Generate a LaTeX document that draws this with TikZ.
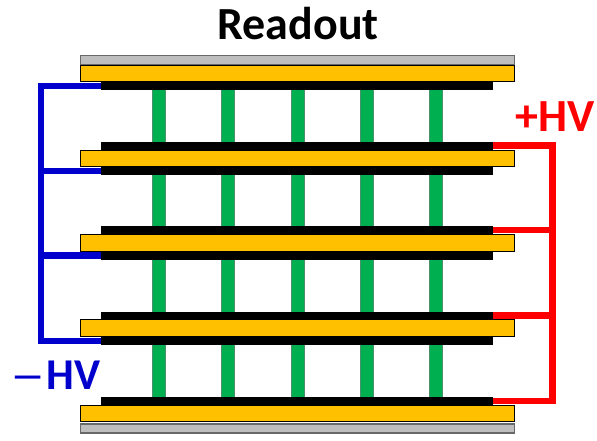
\documentclass[tikz,border=0pt]{standalone}
\usepackage{fontspec}
\setmainfont{Carlito}
\usepackage{tikz}
\definecolor{plateorange}{RGB}{255,192,0}
\definecolor{plategray}{RGB}{190,190,190}
\definecolor{spacergreen}{RGB}{0,176,80}
\definecolor{negblue}{RGB}{0,0,204}
\definecolor{posred}{RGB}{255,0,0}
\begin{document}
\begin{tikzpicture}[x=1pt,y=-1pt,
  plate/.style={rectangle,inner sep=0pt,outer sep=0pt},
  window node/.style={plate,draw=black!45!plategray,line width=1.2pt,fill=plategray,minimum width=434pt,minimum height=9pt},
  pcb node/.style={plate,draw=black,line width=1.4pt,fill=plateorange,minimum width=434pt,minimum height=16.5pt},
  mesh node/.style={plate,fill=black,minimum width=392pt,minimum height=8pt},
  spacer node/.style={plate,draw=black!45!spacergreen!70!white,line width=.8pt,fill=spacergreen,minimum width=13pt,minimum height=312pt},
  neg wire/.style={draw=negblue,line width=6.5pt,-},
  pos wire/.style={draw=posred,line width=6.5pt,-},
  label node/.style={font=\bfseries,inner sep=0pt}]
	\useasboundingbox (0,0) rectangle (597,440);
	% spacers run behind the plates
	\node[spacer node] (SPa) at (159,243) {};
	\node[spacer node] (SPb) at (228,243) {};
	\node[spacer node] (SPc) at (297.5,243) {};
	\node[spacer node] (SPd) at (367,243) {};
	\node[spacer node] (SPe) at (436,243) {};
	\node[window node] (WINtop) at (297.5,60) {};
	\node[window node] (WINbot) at (297.5,428.5) {};
	\node[pcb node] (PCBa) at (297.5,73.5) {};
	\node[pcb node] (PCBb) at (297.5,158.5) {};
	\node[pcb node] (PCBc) at (297.5,243) {};
	\node[pcb node] (PCBd) at (297.5,328) {};
	\node[pcb node] (PCBe) at (297.5,413.5) {};
	\node[mesh node] (LOWa) at (297,86) {};
	\node[mesh node] (UPb) at (297,145.5) {};
	\node[mesh node] (LOWb) at (297,171) {};
	\node[mesh node] (UPc) at (297,230) {};
	\node[mesh node] (LOWc) at (297,255.5) {};
	\node[mesh node] (UPd) at (297,315.5) {};
	\node[mesh node] (LOWd) at (297,341) {};
	\node[mesh node] (UPe) at (297,401) {};
	\coordinate (busL) at (41,243);
	\coordinate (busR) at (552.5,243);
	% high voltage lines
	\draw[neg wire] (LOWa.west) -- (LOWa.west -| busL) -- (LOWd.west -| busL) -- (LOWd.west);
	\path[neg wire]
		(LOWb.west) edge (LOWb.west -| busL)
		(LOWc.west) edge (LOWc.west -| busL);
	\draw[pos wire] (UPb.east) -- (UPb.east -| busR) -- (UPe.east -| busR) -- (UPe.east);
	\path[pos wire]
		(UPc.east) edge (UPc.east -| busR)
		(UPd.east) edge (UPd.east -| busR);
	\node[label node,font=\bfseries\fontsize{46}{46}\selectfont] (RO) at (298,24) {Readout};
	\node[label node,text=posred,font=\bfseries\fontsize{46}{46}\selectfont] (POS) at (555,117) {+HV};
	\node[label node,text=negblue,font=\bfseries\fontsize{44}{44}\selectfont] (NEG) at (56,375) {\raisebox{1.5pt}{\fontsize{35}{35}\selectfont —}\kern3pt HV};
\end{tikzpicture}
\end{document}
